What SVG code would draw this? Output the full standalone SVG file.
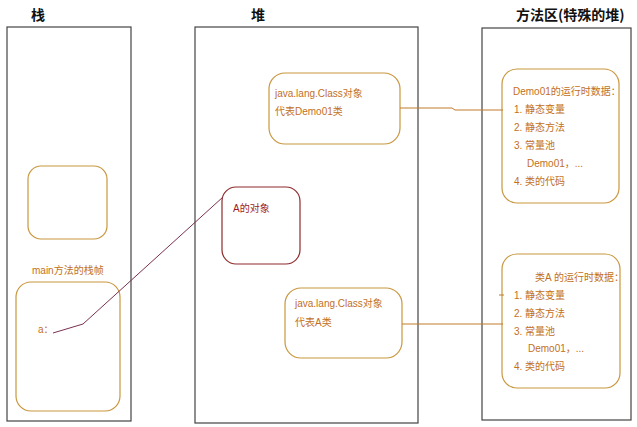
<svg xmlns="http://www.w3.org/2000/svg" width="637" height="427" viewBox="0 0 637 427">
<style>
.title{font-family:"Noto Sans CJK SC","Liberation Sans",sans-serif;font-size:14px;font-weight:bold;fill:#111}
.area{fill:none;stroke:#444;stroke-width:1.2}
.box{fill:#fff;stroke:#c9973f;stroke-width:1.2}
.obj{fill:#fff;stroke:#8e2a2a;stroke-width:1.2}
.t{font-family:"Liberation Sans","Noto Sans CJK SC",sans-serif;font-size:10px;fill:#c2701c}
.tr{font-family:"Liberation Sans","Noto Sans CJK SC",sans-serif;font-size:10px;fill:#9e1a1a}
.conn{fill:none;stroke:#c07a28;stroke-width:1}
.ref{fill:none;stroke:#7a3050;stroke-width:1}
</style>
<rect width="637" height="427" fill="#fff"/>
<g id="stack">
<text class="title" x="31" y="20">栈</text>
<rect class="area" x="7" y="27" width="124" height="394"/>
</g>
<g id="heap">
<text class="title" x="251" y="20">堆</text>
<rect class="area" x="195" y="27" width="223" height="396"/>
</g>
<g id="method-area">
<text class="title" x="516" y="20">方法区(特殊的堆)</text>
<rect class="area" x="482" y="28" width="149" height="392"/>
</g>
<g id="empty-frame">
<rect class="box" x="28" y="166" width="79" height="73" rx="13"/>
</g>
<g id="main-frame">
<text class="t" x="32" y="274">main方法的栈帧</text>
<rect class="box" x="16" y="282" width="104" height="129" rx="15"/>
<text class="t" x="38" y="333">a：</text>
</g>
<g id="a-object">
<rect class="obj" x="222" y="187" width="78" height="77" rx="14"/>
<text class="tr" x="233" y="212">A的对象</text>
</g>
<g id="class-demo01">
<rect class="box" x="269" y="73" width="131" height="71" rx="16"/>
<text class="t" x="275" y="97">java.lang.Class对象</text>
<text class="t" x="275" y="115">代表Demo01类</text>
</g>
<g id="class-a">
<rect class="box" x="285" y="288" width="117" height="70" rx="16"/>
<text class="t" x="295" y="307">java.lang.Class对象</text>
<text class="t" x="295" y="326">代表A类</text>
</g>
<g id="demo01-data">
<rect class="box" x="502" y="69" width="117" height="134" rx="15"/>
<text class="t" x="513" y="95">Demo01的运行时数据：</text>
<text class="t" x="514" y="113">1. 静态变量</text>
<text class="t" x="514" y="131">2. 静态方法</text>
<text class="t" x="514" y="149">3. 常量池</text>
<text class="t" x="527" y="167">Demo01，...</text>
<text class="t" x="514" y="185">4. 类的代码</text>
</g>
<g id="a-data">
<rect class="box" x="502" y="254" width="118" height="134" rx="15"/>
<text class="t" x="535" y="281">类A 的运行时数据：</text>
<text class="t" x="514" y="299">1. 静态变量</text>
<text class="t" x="514" y="317">2. 静态方法</text>
<text class="t" x="514" y="335">3. 常量池</text>
<text class="t" x="528" y="352">Demo01，...</text>
<text class="t" x="514" y="370">4. 类的代码</text>
</g>
<g id="connectors">
<polyline class="conn" points="400,108 452,108 455,110 503,110"/>
<polyline class="conn" points="402,324 503,324"/>
<line class="conn" x1="499" y1="295" x2="504" y2="295"/>
<polyline class="ref" points="53,333 83,324 223,197"/>
</g>
</svg>
